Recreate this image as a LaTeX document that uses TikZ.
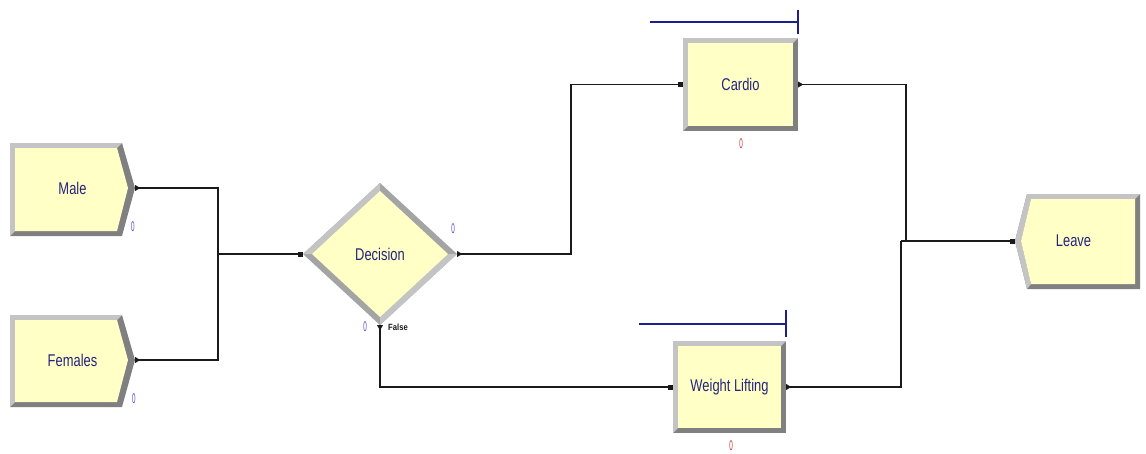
\documentclass[tikz,border=0pt]{standalone}
\usepackage{fontspec}
\setmainfont{Liberation Sans}
\newfontfamily\modfont{Liberation Sans}[FakeStretch=0.76]
\newfontfamily\cntfont{Liberation Sans}[FakeStretch=0.45]
\newfontfamily\lblfont{Liberation Sans}[FakeStretch=0.85]
\usetikzlibrary{shapes.geometric}
\definecolor{modfill}{HTML}{FFFFC6}
\definecolor{bevlight}{HTML}{C4C4C4}
\definecolor{bevmid}{HTML}{A4A4A4}
\definecolor{bevdark}{HTML}{808080}
\definecolor{txtblue}{HTML}{24247E}
\definecolor{qblue}{HTML}{1E1E8C}
\definecolor{cntblue}{HTML}{5050C8}
\definecolor{cntred}{HTML}{C03A3A}
\definecolor{linec}{HTML}{1A1A1A}
\tikzset{
  modtext/.style={inner sep=0pt, text=txtblue, font=\modfont\fontsize{17}{17}\selectfont},
  modrect/.style={modtext, rectangle},
  cnt/.style={inner sep=0pt, font=\cntfont\fontsize{14}{14}\selectfont},
  conn/.style={draw=linec, line width=1.3pt},
  qline/.style={draw=qblue, line width=1.5pt},
  port/.style={fill=linec}
}
\begin{document}
\begin{tikzpicture}[x=1pt,y=-1pt]
\useasboundingbox[fill=white] (0,0) rectangle (1146,453);

% ---- Male (create)
\fill[bevdark] (10,143)--(122,143)--(135,188)--(122,236)--(10,236)--cycle;
\fill[bevlight] (10,143)--(122,143)--(117,148)--(15,148)--(15,231)--(10,236)--cycle;
\fill[modfill] (15,148)--(117,148)--(128,188)--(117,231)--(15,231)--cycle;
\node[modrect, minimum width=125pt, minimum height=93pt] (male) at (72.5,188) {Male};

% ---- Females (create)
\fill[bevdark] (10,315)--(122,315)--(135,360)--(122,407)--(10,407)--cycle;
\fill[bevlight] (10,315)--(122,315)--(117,320)--(15,320)--(15,402)--(10,407)--cycle;
\fill[modfill] (15,320)--(117,320)--(128,360)--(117,402)--(15,402)--cycle;
\node[modrect, minimum width=125pt, minimum height=92pt] (females) at (72.5,360) {Females};

% ---- Decision
\fill[bevmid] (303,254)--(380,183)--(457,254)--(380,325)--cycle;
\fill[bevlight] (303,254)--(380,183)--(380,191)--(312,254)--cycle;
\fill[bevlight] (457,254)--(380,325)--(380,317)--(448,254)--cycle;
\fill[modfill] (312,254)--(380,191)--(448,254)--(380,317)--cycle;
\node[modtext, shape=diamond, minimum width=154pt, minimum height=142pt] (decision) at (380,254) {Decision};

% ---- Cardio (process)
\fill[bevdark] (683,38) rectangle (798,131);
\fill[bevlight] (683,38)--(798,38)--(793,43)--(688,43)--(688,126)--(683,131)--cycle;
\fill[modfill] (688,43) rectangle (793,126);
\node[modrect, minimum width=115pt, minimum height=93pt] (cardio) at (740.5,84.5) {Cardio};

% ---- Weight Lifting (process)
\fill[bevdark] (673,341) rectangle (786,433);
\fill[bevlight] (673,341)--(786,341)--(781,346)--(678,346)--(678,428)--(673,433)--cycle;
\fill[modfill] (678,346) rectangle (781,428);
\node[modrect, minimum width=113pt, minimum height=92pt] (wl) at (729.5,387) {Weight Lifting};

% ---- Leave (dispose)
\fill[bevdark] (1027,194)--(1140,194)--(1140,289)--(1027,289)--(1015,241)--cycle;
\fill[bevlight] (1027,194)--(1140,194)--(1135,199)--(1031,199)--(1021,241)--(1031,284)--(1027,289)--(1015,241)--cycle;
\fill[modfill] (1031,199)--(1135,199)--(1135,284)--(1031,284)--(1021,241)--cycle;
\node[modrect, minimum width=125pt, minimum height=95pt] (leave) at (1077.5,241) {Leave\hspace*{8pt}};

% ---- queue lines
\draw[qline] (650,22) -- (798,22);
\draw[qline] (798,10) -- (798,34);
\draw[qline] (639,324) -- (786,324);
\draw[qline] (786,310) -- (786,337);

% ---- junction coordinates
\coordinate (j1) at (218,254);
\coordinate (j2) at (571,254);
\coordinate (j3) at (906,241);
\coordinate (j4) at (901,241);

% ---- connectors
\draw[conn] (male.east) -| (j1);
\draw[conn] (females.east) -| (j1);
\draw[conn] (j1) -- (decision.west);
\draw[conn] (decision.east) -- (j2) |- (cardio.west);
\draw[conn] (decision.south) |- (wl.west);
\draw[conn] (cardio.east) -| (j3);
\draw[conn] (wl.east) -| (j4);
\draw[conn] (j4) -- (leave.west);

% ---- exit points
\fill[port] (male.east) ++(0,-3) -- ++(5,3) -- ++(-5,3) -- cycle;
\fill[port] (females.east) ++(0,-3) -- ++(5,3) -- ++(-5,3) -- cycle;
\fill[port] (decision.east) ++(0,-3) -- ++(5,3) -- ++(-5,3) -- cycle;
\fill[port] (decision.south) ++(-3,0) -- ++(3,5) -- ++(3,-5) -- cycle;
\fill[port] (cardio.east) ++(0,-3) -- ++(5,3) -- ++(-5,3) -- cycle;
\fill[port] (wl.east) ++(0,-3) -- ++(5,3) -- ++(-5,3) -- cycle;
% ---- entry points
\fill[port] (decision.west) ++(-5,-2.5) rectangle ++(5,5);
\fill[port] (cardio.west) ++(-5,-2.5) rectangle ++(5,5);
\fill[port] (wl.west) ++(-5,-2.5) rectangle ++(5,5);
\fill[port] (leave.west) ++(-5,-2.5) rectangle ++(5,5);

% ---- counters and labels
\node[cnt, text=cntblue] (cmale) at (133,227) {0};
\node[cnt, text=cntblue] (cfem) at (134,399) {0};
\node[cnt, text=cntblue] (cdtrue) at (453,229) {0};
\node[cnt, text=cntblue] (cdfalse) at (365,327) {0};
\node[inner sep=0pt, font=\lblfont\bfseries\fontsize{9}{9}\selectfont, text=linec] (lfalse) at (398,327) {False};
\node[cnt, text=cntred] (ccardio) at (741,144) {0};
\node[cnt, text=cntred] (cwl) at (731,446) {0};
\end{tikzpicture}
\end{document}
